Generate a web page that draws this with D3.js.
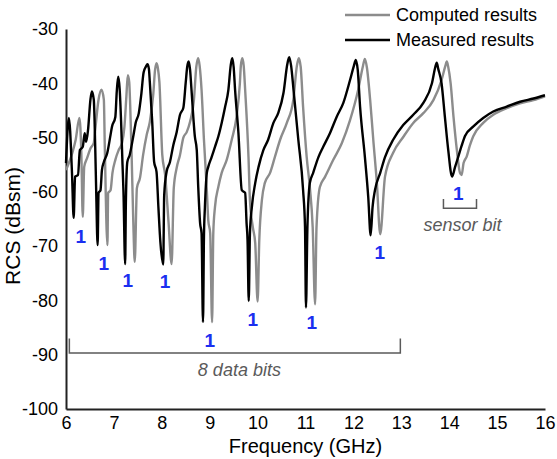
<!DOCTYPE html>
<html>
<head>
<meta charset="utf-8">
<script src="https://cdn.jsdelivr.net/npm/d3@7"></script>
<style>
  body { margin: 0; background: #fff; }
  text { font-family: "Liberation Sans", Arial, sans-serif; }
</style>
</head>
<body>
<script>
  var w = 557;
  var h = 459;
  var margin = {top: 29, right: 12, bottom: 50, left: 66};

  // values: [frequency GHz, RCS dBsm]
  var measured = [
    [6.00,-54.7],[6.06,-46.4],[6.125,-56.5],[6.16,-64.8],[6.19,-57.2],[6.25,-56.9],[6.29,-52.3],
    [6.35,-51.7],[6.39,-49.2],[6.42,-50.8],[6.46,-48.6],[6.51,-43.0],[6.54,-41.5],[6.58,-43.0],
    [6.61,-51.7],[6.63,-59.7],[6.66,-69.8],[6.68,-60.2],[6.72,-59.7],[6.75,-56.0],[6.79,-54.5],
    [6.86,-52.9],[6.93,-49.5],[6.96,-48.0],[7.03,-46.2],[7.06,-41.5],[7.09,-38.8],[7.12,-41.0],
    [7.15,-47.0],[7.18,-55.0],[7.20,-60.0],[7.235,-73.3],[7.25,-62.0],[7.28,-54.5],[7.33,-53.2],
    [7.40,-50.0],[7.46,-47.1],[7.52,-45.5],[7.57,-42.2],[7.62,-38.0],[7.67,-36.9],[7.70,-36.5],
    [7.73,-37.3],[7.75,-39.8],[7.80,-47.1],[7.84,-54.5],[7.89,-56.3],[7.93,-63.0],[7.97,-69.2],
    [8.03,-73.4],[8.05,-60.6],[8.10,-56.3],[8.17,-54.5],[8.24,-51.4],[8.31,-49.0],[8.38,-45.8],
    [8.45,-44.5],[8.50,-39.8],[8.53,-37.0],[8.56,-36.0],[8.59,-37.5],[8.62,-41.2],[8.69,-49.8],
    [8.73,-52.3],[8.76,-59.0],[8.80,-65.8],[8.83,-67.6],[8.86,-84.0],[8.88,-68.3],[8.90,-62.8],
    [8.94,-56.5],[8.97,-55.4],[9.04,-53.6],[9.11,-51.7],[9.18,-49.8],[9.25,-47.3],[9.32,-44.4],
    [9.39,-41.2],[9.44,-36.6],[9.47,-35.4],[9.50,-37.0],[9.53,-41.2],[9.60,-49.2],[9.67,-59.7],
    [9.74,-60.2],[9.77,-65.8],[9.79,-68.9],[9.815,-80.1],[9.84,-67.6],[9.88,-62.8],[9.95,-58.4],
    [10.02,-55.4],[10.12,-52.3],[10.22,-50.4],[10.33,-47.3],[10.43,-45.5],[10.54,-41.8],[10.62,-36.5],
    [10.66,-35.2],[10.70,-36.8],[10.75,-41.2],[10.85,-50.4],[10.95,-59.7],[10.99,-66.5],[11.01,-81.3],
    [11.04,-66.5],[11.09,-58.4],[11.16,-56.5],[11.27,-53.6],[11.37,-51.7],[11.51,-49.2],[11.65,-46.2],
    [11.79,-43.6],[11.93,-39.4],[12.01,-36.8],[12.05,-35.7],[12.09,-37.5],[12.14,-44.4],[12.24,-53.6],
    [12.31,-61.0],[12.36,-68.0],[12.40,-62.8],[12.45,-59.7],[12.56,-56.5],[12.66,-53.6],[12.83,-50.4],
    [13.04,-47.7],[13.25,-45.8],[13.46,-43.6],[13.64,-40.0],[13.71,-37.0],[13.74,-36.2],[13.77,-37.3],
    [13.84,-40.0],[13.91,-46.2],[13.98,-52.3],[14.06,-57.2],[14.12,-55.5],[14.19,-53.5],[14.26,-51.5],
    [14.33,-49.7],[14.50,-48.0],[14.71,-46.4],[14.92,-45.2],[15.20,-44.3],[15.48,-43.4],[15.76,-42.8],
    [16.00,-42.2]
  ];

  var computed = [
    [6.00,-56.0],[6.125,-53.0],[6.20,-50.5],[6.28,-46.4],[6.32,-52.8],[6.35,-64.6],[6.38,-55.4],
    [6.44,-53.8],[6.51,-52.0],[6.58,-51.0],[6.61,-48.6],[6.68,-43.0],[6.74,-41.2],[6.79,-43.0],
    [6.81,-51.7],[6.865,-69.8],[6.88,-60.2],[6.93,-59.7],[6.97,-56.5],[7.03,-54.1],[7.10,-52.3],
    [7.17,-51.0],[7.22,-48.0],[7.26,-42.5],[7.29,-38.5],[7.32,-39.8],[7.34,-44.0],[7.37,-53.2],
    [7.405,-65.5],[7.435,-72.9],[7.48,-59.3],[7.545,-57.4],[7.61,-53.2],[7.685,-49.5],[7.75,-47.1],
    [7.82,-42.2],[7.86,-37.5],[7.89,-36.3],[7.92,-37.3],[7.95,-39.8],[8.01,-53.2],[8.07,-56.9],
    [8.14,-65.5],[8.205,-73.3],[8.25,-59.3],[8.31,-55.6],[8.38,-53.2],[8.45,-50.0],[8.52,-49.0],
    [8.59,-47.1],[8.67,-43.1],[8.72,-37.0],[8.76,-35.4],[8.79,-36.8],[8.83,-41.2],[8.88,-50.4],
    [8.94,-59.7],[8.97,-65.2],[9.01,-67.6],[9.05,-84.0],[9.075,-67.6],[9.11,-62.8],[9.18,-59.1],
    [9.25,-56.5],[9.355,-54.1],[9.46,-50.4],[9.56,-46.2],[9.63,-40.0],[9.65,-36.8],[9.68,-35.4],
    [9.71,-36.8],[9.74,-41.2],[9.81,-53.6],[9.84,-61.5],[9.90,-66.5],[9.95,-69.4],[10.00,-80.2],
    [10.035,-68.9],[10.09,-61.5],[10.15,-58.4],[10.26,-56.5],[10.36,-53.6],[10.47,-50.4],[10.61,-47.3],
    [10.745,-43.1],[10.82,-36.8],[10.86,-35.4],[10.90,-37.0],[10.95,-44.4],[11.025,-53.6],[11.09,-59.1],
    [11.15,-66.5],[11.20,-80.7],[11.23,-66.5],[11.30,-59.1],[11.41,-57.2],[11.58,-54.1],[11.76,-51.0],
    [11.93,-46.8],[12.10,-41.2],[12.20,-36.8],[12.24,-35.5],[12.28,-37.0],[12.35,-43.1],[12.415,-50.4],
    [12.49,-58.4],[12.56,-67.8],[12.66,-57.2],[12.83,-52.8],[13.04,-49.9],[13.25,-47.3],[13.46,-45.5],
    [13.67,-43.1],[13.84,-39.4],[13.92,-36.8],[13.95,-36.0],[13.98,-37.0],[14.03,-40.0],[14.09,-46.2],
    [14.16,-52.3],[14.225,-56.5],[14.26,-56.9],[14.30,-54.7],[14.365,-53.5],[14.43,-51.5],[14.50,-49.8],
    [14.71,-47.3],[14.92,-45.8],[15.20,-44.6],[15.48,-43.7],[15.76,-43.1],[16.00,-42.4]
  ];

  var xTicks = [6, 7, 8, 9, 10, 11, 12, 13, 14, 15, 16];
  var yTicks = [-100, -90, -80, -70, -60, -50, -40, -30];

  // blue "1" bit markers
  var bitF = [6.31, 6.79, 7.29, 8.07, 9.0, 9.9, 11.13, 12.55, 14.19];
  var bitV = [-68.1, -73.1, -76.2, -76.5, -87.4, -83.4, -84.0, -71.1, -60.3];

  var series = [
    {name: "Computed results", data: computed, color: "#8c8c8c"},
    {name: "Measured results", data: measured, color: "#000000"}
  ];

  var xScale = d3.scaleLinear().domain([6, 16]).range([margin.left, w - margin.right]);
  var yScale = d3.scaleLinear().domain([-100, -30]).range([h - margin.bottom, margin.top]);

  var svg = d3.select("body").append("svg")
    .attr("width", w)
    .attr("height", h);

  // axes (plain hyphen minus, as in the figure)
  var fmt = function (d) { return String(d); };
  var xAxis = svg.append("g")
    .attr("transform", "translate(0," + yScale(-100) + ")")
    .call(d3.axisBottom(xScale).tickValues(xTicks).tickSize(0).tickPadding(7).tickFormat(fmt));
  var yAxis = svg.append("g")
    .attr("transform", "translate(" + xScale(6) + ",0)")
    .call(d3.axisLeft(yScale).tickValues(yTicks).tickSize(0).tickPadding(8).tickFormat(fmt));

  [xAxis, yAxis].forEach(function (a) {
    a.select(".domain").attr("stroke", "#222").attr("stroke-width", 2);
    a.selectAll("text").attr("font-size", 18).attr("fill", "#000")
      .style("font-family", "'Liberation Sans', Arial, sans-serif");
  });

  svg.append("text")
    .attr("x", (xScale(6) + xScale(16)) / 2)
    .attr("y", 453)
    .attr("text-anchor", "middle")
    .attr("font-size", 20)
    .text("Frequency (GHz)");

  svg.append("text")
    .attr("transform", "translate(20," + 226 + ") rotate(-90)")
    .attr("text-anchor", "middle")
    .attr("font-size", 21)
    .text("RCS (dBsm)");

  // curves
  var line = d3.line()
    .x(function (d) { return xScale(d[0]); })
    .y(function (d) { return yScale(d[1]); })
    .curve(d3.curveMonotoneX);

  svg.selectAll("path.curve")
    .data(series)
    .enter()
    .append("path")
    .attr("class", "curve")
    .attr("fill", "none")
    .attr("stroke", function (d) { return d.color; })
    .attr("stroke-width", 2.4)
    .attr("stroke-linejoin", "round")
    .attr("d", function (d) { return line(d.data); });

  // bit labels
  svg.selectAll("text.bit")
    .data(bitF)
    .enter()
    .append("text")
    .attr("class", "bit")
    .attr("x", function (d) { return xScale(d); })
    .attr("y", function (d, i) { return yScale(bitV[i]); })
    .attr("dy", "0.36em")
    .attr("text-anchor", "middle")
    .attr("font-size", 19)
    .attr("font-weight", "bold")
    .attr("fill", "#1a2ff0")
    .text("1");

  // brackets
  var brackets = [
    {f0: 6.07, f1: 12.98, v: -89.7, top: -87.0, label: "8 data bits", lf: 9.62, lv: -92.8},
    {f0: 13.88, f1: 14.57, v: -63.0, top: -61.3, label: "sensor bit", lf: 14.28, lv: -66.0}
  ];
  brackets.forEach(function (b) {
    svg.append("path")
      .attr("fill", "none")
      .attr("stroke", "#5a5a5a")
      .attr("stroke-width", 1.5)
      .attr("d", "M" + xScale(b.f0) + "," + yScale(b.top) +
        "V" + yScale(b.v) + "H" + xScale(b.f1) + "V" + yScale(b.top));
    svg.append("text")
      .attr("x", xScale(b.lf))
      .attr("y", yScale(b.lv))
      .attr("dy", "0.36em")
      .attr("text-anchor", "middle")
      .attr("font-size", 18)
      .attr("font-style", "italic")
      .attr("fill", "#5a5a5a")
      .text(b.label);
  });

  // legend
  var legend = svg.selectAll("g.legend")
    .data(series)
    .enter()
    .append("g")
    .attr("class", "legend")
    .attr("transform", function (d, i) { return "translate(345," + (15 + i * 25) + ")"; });
  legend.append("line")
    .attr("x1", 0).attr("x2", 45)
    .attr("stroke", function (d) { return d.color; })
    .attr("stroke-width", 2.4);
  legend.append("text")
    .attr("x", 51)
    .attr("dy", "0.36em")
    .attr("font-size", 18)
    .text(function (d) { return d.name; });
</script>
</body>
</html>
